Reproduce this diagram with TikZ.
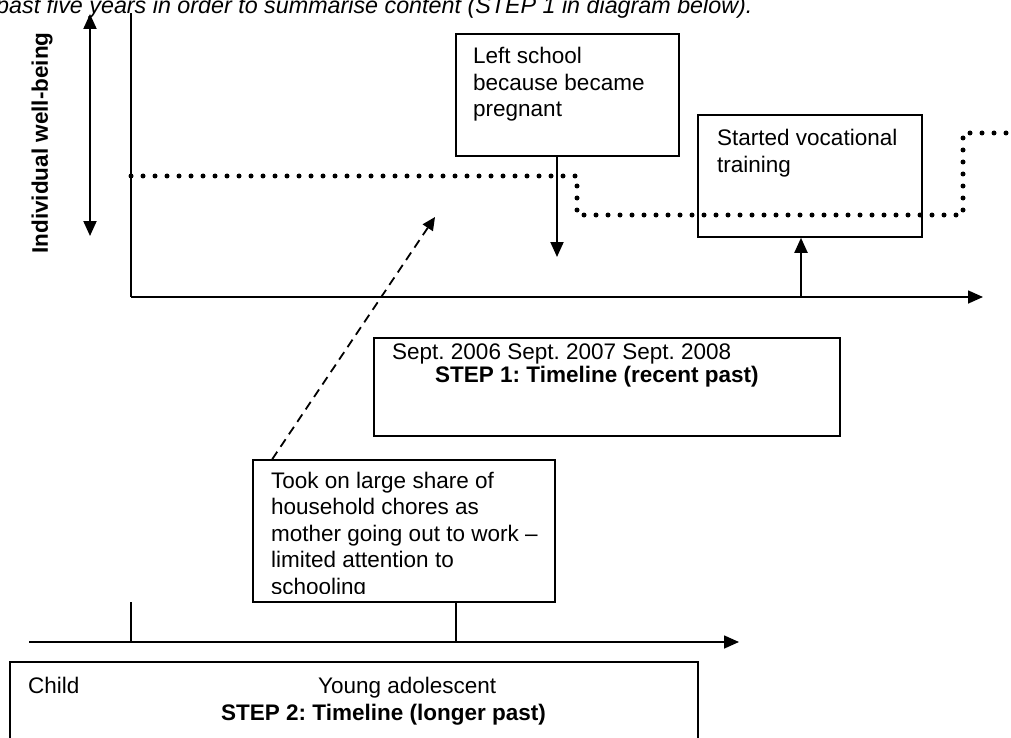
\documentclass[tikz,border=0pt]{standalone}
\usepackage{fontspec}
\setmainfont{Liberation Sans}
\usetikzlibrary{arrows.meta}
\frenchspacing
\newcommand{\fs}{\fontsize{22.5}{26.5}\selectfont}
\newcommand{\lns}[1]{\parbox[t]{480pt}{\raggedright #1}}
\begin{document}
\begin{tikzpicture}[x=1pt,y=-1pt,
  every node/.style={font=\fs, inner sep=0pt},
  boxshape/.style={draw, line width=1.6pt, inner sep=0pt},
  txt/.style={anchor=base west, align=left},
  tip/.style={-{Triangle[length=15pt,width=13pt]}},
  solidarrow/.style={line width=2pt, tip},
  dotline/.style={line width=5pt, line cap=round, dash pattern=on 0pt off 12pt},
  axis/.style={line width=1.6pt}
]
\useasboundingbox (0,0) rectangle (1011,738);

% intro line (cut at the top)
\node[anchor=base west, font=\fontsize{23.3}{27}\selectfont\itshape] (intro) at (-4,14)
  {past five years in order to summarise content (STEP 1 in diagram below).};

% upper timeline axes
\coordinate (origin) at (131,297);
\coordinate (ytop) at (131,13);
\coordinate (xend) at (983,297);
\draw[axis] (ytop) -- (origin);
\draw[axis, tip] (origin) -- (xend);

% well-being double arrow and label
\coordinate (wbtop) at (90,14);
\coordinate (wbbot) at (90,236);
\draw[line width=2pt, {Triangle[length=15pt,width=13pt]}-{Triangle[length=15pt,width=13pt]}] (wbtop) -- (wbbot);
\node[rotate=90, font=\fs\bfseries] (wblabel) at (42,143) {Individual well-being};

% dotted well-being trend
\draw[dotline] (131,176) -- (577,176) -- (577,215) -- (963,215) -- (963,133) -- (1030,133);

% Left school box
\node[boxshape, minimum width=223pt, minimum height=122pt] (leftbox) at (567.5,95) {};
\node[txt] (lefttext) at (473,64) {\lns{Left school\\because became\\pregnant}};
\coordinate (lefttip) at (557,257);
\draw[solidarrow] (leftbox.south -| lefttip) -- (lefttip);

% Started vocational training box
\node[boxshape, minimum width=224pt, minimum height=122pt] (vocbox) at (810,176) {};
\node[txt] (voctext) at (717,146) {\lns{Started vocational\\training}};
\coordinate (voctail) at (801,297);
\draw[solidarrow] (voctail) -- (voctail |- vocbox.south);

% STEP 1 box
\node[boxshape, minimum width=466pt, minimum height=98pt] (step1box) at (607,387) {};
\node[anchor=base west] (step1a) at (392,359) {Sept. 2006 Sept. 2007 Sept. 2008};
\node[anchor=base west, font=\fs\bfseries] (step1b) at (435,382.5) {STEP 1: Timeline (recent past)};

% chores box
\node[boxshape, minimum width=302pt, minimum height=142pt] (chorebox) at (404,531) {};
\begin{scope}
  \clip (253,460) rectangle (560,593.5);
  \node[txt] (choretext) at (271,488) {\lns{Took on large share of\\household chores as\\mother going out to work --\\limited attention to\\schooling}};
\end{scope}
\coordinate (dashtip) at (435,217);
\draw[line width=1.8pt, dash pattern=on 9pt off 6pt, -{Triangle[length=13pt,width=12pt]}]
  ([xshift=20pt]chorebox.north west) -- (dashtip);

% lower timeline
\coordinate (lowstart) at (29,642);
\coordinate (lowend) at (739,642);
\coordinate (childtick) at (131,642);
\draw[axis, tip] (lowstart) -- (lowend);
\draw[axis] (131,602) -- (childtick);
\draw[axis] (chorebox.south -| 456,0) -- (456,642);

% STEP 2 box
\node[boxshape, minimum width=688pt, minimum height=120pt] (step2box) at (354,722) {};
\node[anchor=base west] (childlbl) at (28,693) {Child};
\node[anchor=base west] (younglbl) at (318,693) {Young adolescent};
\node[anchor=base west, font=\fs\bfseries] (step2lbl) at (221,720) {STEP 2: Timeline (longer past)};
\end{tikzpicture}
\end{document}
